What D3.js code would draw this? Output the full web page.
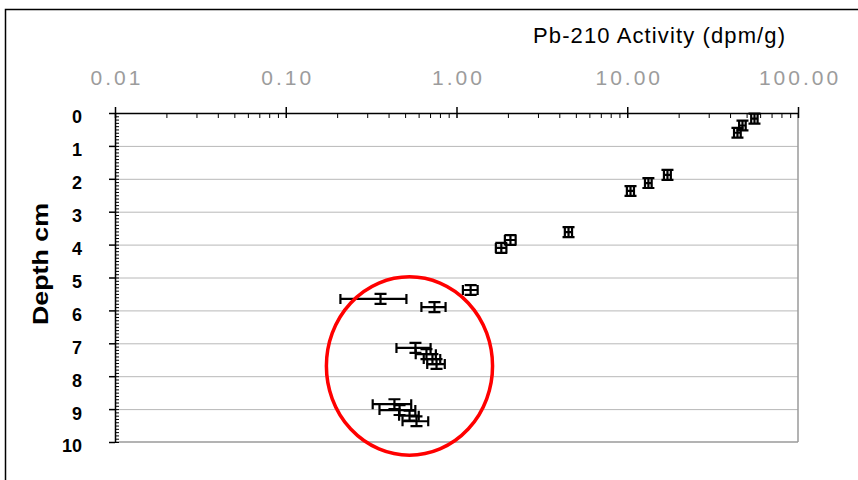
<!DOCTYPE html>
<html>
<head>
<meta charset="utf-8">
<script src="https://cdn.jsdelivr.net/npm/d3@7"></script>
<style>
body { margin: 0; background: #fff; }
svg { display: block; font-family: "Liberation Sans", Arial, sans-serif; }
</style>
</head>
<body>
<script>

// Pb-210 activity (dpm/g) against depth (cm)
const activity    = [55.6, 47.3, 44.2, 17.2, 13.3, 10.45, 4.53, 2.07, 1.83, 1.21, 0.359, 0.743, 0.575, 0.667, 0.723, 0.764, 0.433, 0.464, 0.531, 0.583]
const activityErr = [2.4, 2.1, 2.0, 0.8, 0.6, 0.5, 0.22, 0.15, 0.13, 0.12, 0.15, 0.12, 0.13, 0.09, 0.08, 0.09, 0.11, 0.11, 0.07, 0.10]
const depth       = [0.17, 0.38, 0.6, 1.88, 2.13, 2.37, 3.62, 3.86, 4.1, 5.38, 5.65, 5.9, 7.14, 7.33, 7.48, 7.63, 8.85, 9.03, 9.2, 9.37]
const depthErr    = [0.15, 0.15, 0.15, 0.15, 0.15, 0.15, 0.15, 0.15, 0.15, 0.15, 0.15, 0.15, 0.15, 0.15, 0.15, 0.15, 0.15, 0.15, 0.15, 0.15]

const xTicks = [0.01, 0.1, 1, 10, 100]
const xTickLabels = ['0.01', '0.10', '1.00', '10.00', '100.00']
const yTicks = [0, 1, 2, 3, 4, 5, 6, 7, 8, 9, 10]
const gridDepths = [1, 2, 3, 4, 5, 6, 7, 8, 9]

// red ring drawn round the lower samples (activity / depth extent)
const ringActivity = [0.173, 1.626]
const ringDepth = [4.98, 10.4]

const margin = { top: 113, left: 115 }
const width = 798 - 115
const height = 442 - 113
const capHalf = 5
const yCapHalf = 6

const x = d3.scaleLog().domain([0.01, 100]).range([0, width])
const y = d3.scaleLinear().domain([0, 10]).range([0, height])

const svg = d3.select('body').append('svg')
	.attr('width', 858)
	.attr('height', 480)

svg.append('rect')
	.attr('x', 5.5).attr('y', 9.5)
	.attr('width', 900).attr('height', 500)
	.attr('fill', 'none')
	.attr('stroke', '#000')
	.attr('stroke-width', 1.5)

const g = svg.append('g')
	.attr('transform', 'translate(' + margin.left + ',' + margin.top + ')')

// gridlines
g.append('g')
	.attr('class', 'grid')
	.call(d3.axisLeft(y).tickValues(gridDepths).tickSize(-width).tickFormat(''))
	.call(s => s.select('.domain').remove())
	.selectAll('line')
		.attr('stroke', '#b8b8b8')
		.attr('stroke-width', 1)

// plot border right / bottom
g.append('line')
	.attr('x1', x(100)).attr('x2', x(100))
	.attr('y1', y(0)).attr('y2', y(10))
	.attr('stroke', '#9a9a9a').attr('stroke-width', 1.5)
g.append('line')
	.attr('x1', 0).attr('x2', width)
	.attr('y1', y(10)).attr('y2', y(10))
	.attr('stroke', '#9a9a9a').attr('stroke-width', 1.5)

// error bars
const pts = activity.map((a, i) => ({ a: a, ea: activityErr[i], d: depth[i], ed: depthErr[i] }))

g.append('g')
	.selectAll('path')
	.data(pts)
	.enter().append('path')
		.attr('fill', 'none')
		.attr('stroke', '#000')
		.attr('stroke-width', 2.2)
		.attr('d', function(p) {
			const x0 = x(p.a - p.ea), x1 = x(p.a + p.ea), xc = x(p.a)
			const y0 = y(p.d - p.ed), y1 = y(p.d + p.ed), yc = y(p.d)
			return 'M' + x0 + ',' + yc + 'H' + x1 +
				'M' + x0 + ',' + (yc - capHalf) + 'V' + (yc + capHalf) +
				'M' + x1 + ',' + (yc - capHalf) + 'V' + (yc + capHalf) +
				'M' + xc + ',' + y0 + 'V' + y1 +
				'M' + (xc - yCapHalf) + ',' + y0 + 'H' + (xc + yCapHalf) +
				'M' + (xc - yCapHalf) + ',' + y1 + 'H' + (xc + yCapHalf)
		})

// minor ticks on top axis
const xMinor = []
xTicks.slice(0, -1).forEach(function(t) {
	for (let k = 2; k <= 9; k++) xMinor.push(t * k)
})
g.append('g')
	.call(d3.axisBottom(x).tickValues(xMinor).tickSize(5).tickSizeOuter(0).tickFormat(''))
	.call(s => s.select('.domain').remove())
	.selectAll('line').attr('stroke', '#000')

// top axis
const xAxis = g.append('g')
	.attr('class', 'x axis')
	.call(d3.axisTop(x).tickValues(xTicks).tickSizeInner(6).tickSizeOuter(0)
		.tickFormat((d, i) => xTickLabels[i]))
xAxis.select('.domain').attr('stroke', '#000').attr('stroke-width', 1.5)
xAxis.selectAll('.tick line').attr('y1', 5).attr('stroke', '#000').attr('stroke-width', 1.5)
xAxis.selectAll('.tick text')
	.attr('y', -28)
	.attr('dx', 1.5)
	.attr('fill', '#9c9c9c')
	.style('font-size', '21px')
	.style('letter-spacing', '3px')
	.style('font-family', '"Liberation Sans", Arial, sans-serif')

// minor ticks on depth axis
g.append('g')
	.call(d3.axisRight(y).tickValues(d3.range(0, 101).map(k => k / 10)).tickSize(4).tickSizeOuter(0).tickFormat(''))
	.call(s => s.select('.domain').remove())
	.selectAll('line').attr('stroke', '#000')

// depth axis
const yAxis = g.append('g')
	.attr('class', 'y axis')
	.call(d3.axisLeft(y).tickValues(yTicks).tickSize(6).tickSizeOuter(0))
yAxis.select('.domain').attr('stroke', '#000').attr('stroke-width', 1.5)
yAxis.selectAll('.tick line').attr('stroke', '#000').attr('stroke-width', 1.5)
yAxis.selectAll('.tick text')
	.attr('x', -33)
	.attr('dy', '0.55em')
	.attr('fill', '#000')
	.style('font-size', '18px')
	.style('font-weight', 'bold')
	.style('font-family', '"Liberation Sans", Arial, sans-serif')

// red ring
const rx0 = x(ringActivity[0]), rx1 = x(ringActivity[1])
const ry0 = y(ringDepth[0]), ry1 = y(ringDepth[1])
g.append('ellipse')
	.attr('cx', (rx0 + rx1) / 2)
	.attr('cy', (ry0 + ry1) / 2)
	.attr('rx', (rx1 - rx0) / 2)
	.attr('ry', (ry1 - ry0) / 2)
	.attr('fill', 'none')
	.attr('stroke', '#ff0000')
	.attr('stroke-width', 3.5)

// titles
svg.append('text')
	.attr('x', 533)
	.attr('y', 43)
	.attr('textLength', 252)
	.attr('lengthAdjust', 'spacing')
	.style('font-size', '22px')
	.attr('fill', '#000')
	.text('Pb-210 Activity (dpm/g)')

svg.append('text')
	.attr('transform', 'translate(48,264) rotate(-90)')
	.attr('text-anchor', 'middle')
	.attr('textLength', 122)
	.attr('lengthAdjust', 'spacingAndGlyphs')
	.style('font-size', '22px')
	.style('font-weight', 'bold')
	.text('Depth cm')

</script>
</body>
</html>
